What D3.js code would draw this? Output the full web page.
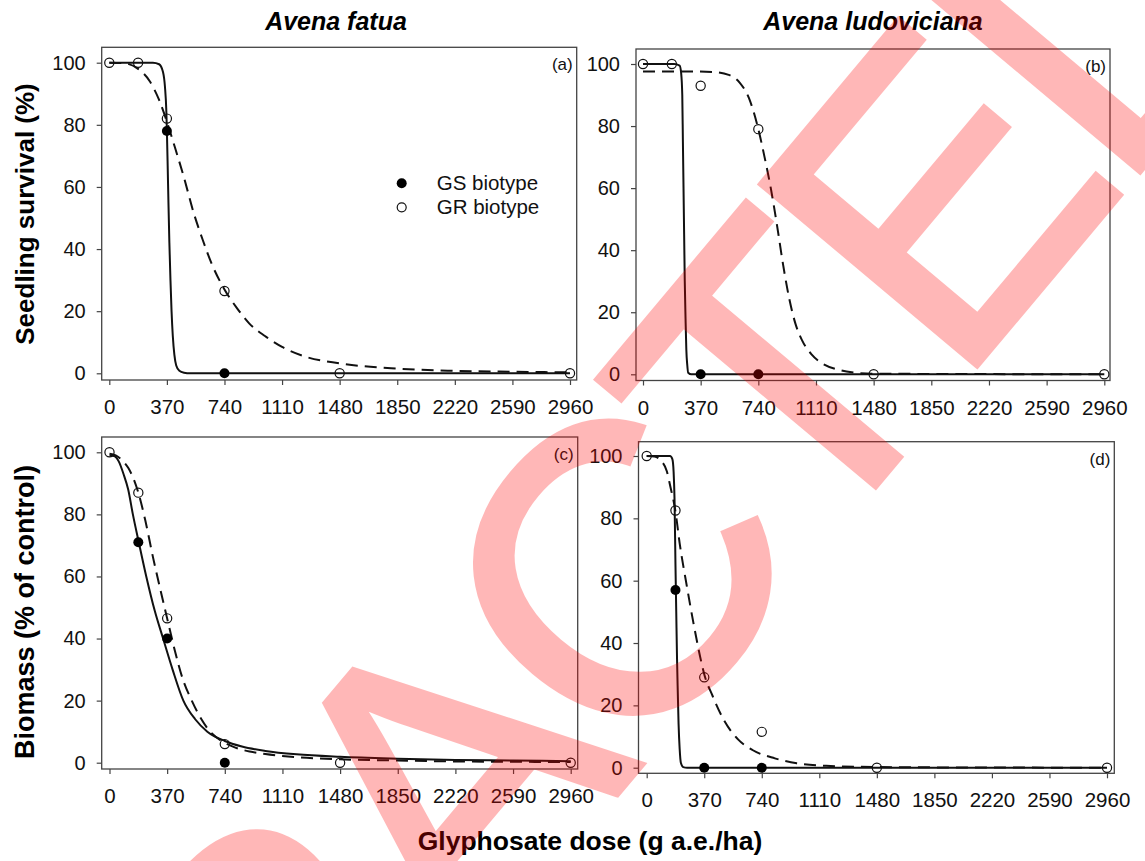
<!DOCTYPE html>
<html>
<head>
<meta charset="utf-8">
<script src="https://cdn.jsdelivr.net/npm/d3@7"></script>
<style>
  body { margin: 0; background: #fff; }
  svg { display: block; font-family: "Liberation Sans", Arial, sans-serif; }
</style>
</head>
<body>
<svg id="chart" width="1145" height="861"></svg>
<script>
const doses = [0, 185, 370, 740, 1480, 2960];
const xTicks = [0, 370, 740, 1110, 1480, 1850, 2220, 2590, 2960];
const yTicks = [0, 20, 40, 60, 80, 100];
const species = ["Avena fatua", "Avena ludoviciana"];
const biotypes = ["GS biotype", "GR biotype"];

// observed means (null = no marker shown)
const gsSurvivalFatua = [null, null, 78, 0, null, null];
const grSurvivalFatua = [100, 100, 82, 26.5, 0, 0];
const gsSurvivalLudo = [null, null, 0, 0, null, null];
const grSurvivalLudo = [100, 100, 93, 79, 0, 0];
const gsBiomassFatua = [null, 71, 40, 0, null, null];
const grBiomassFatua = [100, 87, 46.5, 6, 0, 0];
const gsBiomassLudo = [null, 57, 0, 0, null, null];
const grBiomassLudo = [100, 82.5, 29, 11.5, 0, 0];

// fitted curves as [dose, value]
const gsCurveA = [[0,100],[280,100],[320,99.5],[345,97],[358,92],[366,85],[370,78],[375,67],[380,55],[386,42],[393,30],[400,20],[408,12],[418,6],[430,2.5],[450,0.8],[480,0.2],[520,0],[2960,0]];
const grCurveA = [[0,100],[100,99.8],[185,98],[260,94],[320,88],[370,81],[420,73],[480,63],[540,52],[600,43],[660,35],[740,27],[820,21],[900,16],[1000,12],[1110,8.5],[1250,5.5],[1480,3.2],[1850,1.5],[2220,0.8],[2590,0.5],[2960,0.3]];
const gsCurveB = [[0,100],[200,100],[235,99.5],[245,97],[252,90],[256,75],[260,60],[264,45],[268,30],[273,18],[278,8],[284,3],[290,0.5],[310,0],[2960,0]];
const grCurveB = [[0,97.6],[300,97.6],[450,97.4],[550,96.5],[620,94],[680,89],[740,79],[780,70],[820,60],[860,48],[900,35],[940,24],[980,16],[1020,11],[1080,6.5],[1150,3.5],[1250,1.5],[1350,0.6],[1480,0.2],[2960,0]];
const gsCurveC = [[0,99],[30,98.8],[60,97],[90,93],[120,88],[150,80],[188,71],[236,60],[290,49],[344,40],[405,30],[474,20],[550,14],[628,10],[740,7],[850,5.2],[1000,3.8],[1200,2.7],[1480,1.9],[1850,1.3],[2220,0.9],[2590,0.7],[2960,0.5]];
const grCurveC = [[0,99.5],[40,99],[80,97.5],[120,95],[150,92],[185,87],[230,78],[280,66],[330,55],[370,46.5],[420,36],[470,27],[528,20],[590,14],[646,10],[720,7],[800,5],[900,3.6],[1000,2.8],[1200,1.8],[1480,1.1],[1850,0.7],[2220,0.4],[2590,0.3],[2960,0.2]];
const gsCurveD = [[0,100],[150,100],[165,99],[173,95],[179,86],[185,65],[190,50],[195,35],[200,24],[205,14],[212,6],[220,1.5],[235,0.2],[260,0],[2960,0]];
const grCurveD = [[0,100],[50,99.8],[94,98.4],[130,95],[153,90],[184,82.5],[212,72],[259,58],[306,45],[353,33.5],[370,30],[424,23],[494,15.5],[589,9],[683,5.6],[824,3],[965,1.4],[1154,0.6],[1480,0.2],[1850,0.1],[2960,0]];

const svg = d3.select("#chart");

const panels = [
  { tag: "(a)", gs: gsSurvivalFatua, gr: grSurvivalFatua, gsCurve: gsCurveA, grCurve: grCurveA,
    left: 101.7, top: 47.3, right: 576.7, bottom: 380, x0: 109.3, x1: 570, y0: 373.3, y1: 62.7 },
  { tag: "(b)", gs: gsSurvivalLudo, gr: grSurvivalLudo, gsCurve: gsCurveB, grCurve: grCurveB,
    left: 636, top: 49, right: 1110, bottom: 380.5, x0: 643, x1: 1104.3, y0: 374.3, y1: 64 },
  { tag: "(c)", gs: gsBiomassFatua, gr: grBiomassFatua, gsCurve: gsCurveC, grCurve: grCurveC,
    left: 101.7, top: 437, right: 577.7, bottom: 769, x0: 109.5, x1: 570.7, y0: 762.7, y1: 452.3 },
  { tag: "(d)", gs: gsBiomassLudo, gr: grBiomassLudo, gsCurve: gsCurveD, grCurve: grCurveD,
    left: 638.5, top: 441.7, right: 1114.3, bottom: 773.3, x0: 646.7, x1: 1107, y0: 767.7, y1: 456 }
];

const frameColor = "#444";

panels.forEach(p => {
  const x = d3.scaleLinear().domain([0, 2960]).range([p.x0, p.x1]);
  const y = d3.scaleLinear().domain([0, 100]).range([p.y0, p.y1]);
  const g = svg.append("g");

  // x axis
  const xa = g.append("g")
    .attr("transform", `translate(0,${p.bottom})`)
    .call(d3.axisBottom(x).tickValues(xTicks).tickSize(5).tickSizeOuter(0).tickPadding(14.5).tickFormat(d3.format("d")));
  xa.select(".domain").remove();
  xa.selectAll("line").attr("stroke", frameColor).attr("stroke-width", 1.2);
  xa.selectAll("text").attr("fill", "#111").style("font-size", "20.5px");

  // y axis
  const ya = g.append("g")
    .attr("transform", `translate(${p.left},0)`)
    .call(d3.axisLeft(y).tickValues(yTicks).tickSize(5).tickSizeOuter(0).tickPadding(11));
  ya.select(".domain").remove();
  ya.selectAll("line").attr("stroke", frameColor).attr("stroke-width", 1.2);
  ya.selectAll("text").attr("fill", "#111").style("font-size", "20px");

  // frame
  g.append("rect")
    .attr("x", p.left).attr("y", p.top)
    .attr("width", p.right - p.left).attr("height", p.bottom - p.top)
    .attr("fill", "none").attr("stroke", frameColor).attr("stroke-width", 1.3);

  const line = d3.line().x(d => x(d[0])).y(d => y(d[1])).curve(d3.curveMonotoneX);

  g.append("path").datum(p.grCurve)
    .attr("d", line).attr("fill", "none").attr("stroke", "#111")
    .attr("stroke-width", 2).attr("stroke-dasharray", "12,7");
  g.append("path").datum(p.gsCurve)
    .attr("d", line).attr("fill", "none").attr("stroke", "#111")
    .attr("stroke-width", 2);

  // GS points (filled)
  g.selectAll(".gs").data(doses.map((d, i) => [d, p.gs[i]]).filter(d => d[1] !== null))
    .enter().append("circle")
    .attr("cx", d => x(d[0])).attr("cy", d => y(d[1])).attr("r", 5)
    .attr("fill", "#000");
  // GR points (open)
  g.selectAll(".gr").data(doses.map((d, i) => [d, p.gr[i]]).filter(d => d[1] !== null))
    .enter().append("circle")
    .attr("cx", d => x(d[0])).attr("cy", d => y(d[1])).attr("r", 4.6)
    .attr("fill", "none").attr("stroke", "#111").attr("stroke-width", 1.2);

  g.append("text")
    .attr("x", p.right - 4).attr("y", p.top + 23)
    .attr("text-anchor", "end").style("font-size", "17px").attr("fill", "#111")
    .text(p.tag);
});

// legend in panel (a)
const legend = svg.append("g");
biotypes.forEach((b, i) => {
  legend.append("circle")
    .attr("cx", 401.7).attr("cy", 183.3 + i * 24).attr("r", i === 0 ? 5 : 4.5)
    .attr("fill", i === 0 ? "#000" : "none").attr("stroke", "#111").attr("stroke-width", i === 0 ? 0 : 1.2);
  legend.append("text")
    .attr("x", 436.7).attr("y", 190 + i * 24)
    .style("font-size", "20.5px").attr("fill", "#111")
    .text(b);
});

// titles
svg.append("text").attr("x", 336).attr("y", 30).attr("text-anchor", "middle")
  .style("font-size", "25px").style("font-weight", "bold").style("font-style", "italic")
  .text(species[0]);
svg.append("text").attr("x", 873).attr("y", 30).attr("text-anchor", "middle")
  .style("font-size", "25px").style("font-weight", "bold").style("font-style", "italic")
  .text(species[1]);

svg.append("text").attr("transform", "translate(33.5,214) rotate(-90)").attr("text-anchor", "middle")
  .style("font-size", "26px").style("font-weight", "bold").text("Seedling survival (%)");
svg.append("text").attr("transform", "translate(33.5,612) rotate(-90)").attr("text-anchor", "middle")
  .style("font-size", "27px").style("font-weight", "bold").text("Biomass (% of control)");
svg.append("text").attr("x", 590).attr("y", 849.5).attr("text-anchor", "middle")
  .style("font-size", "26.5px").style("font-weight", "bold").text("Glyphosate dose (g a.e./ha)");

// watermark
svg.append("g").attr("opacity", 0.28)
  .append("text")
  .attr("transform", "translate(-199,1767) rotate(-50)")
  .style("font-size", "410px").style("letter-spacing", "-20px")
  .attr("fill", "rgb(255,0,0)")
  .attr("stroke", "rgb(255,0,0)").attr("stroke-width", 6)
  .text("RETRACTED");
</script>
</body>
</html>
